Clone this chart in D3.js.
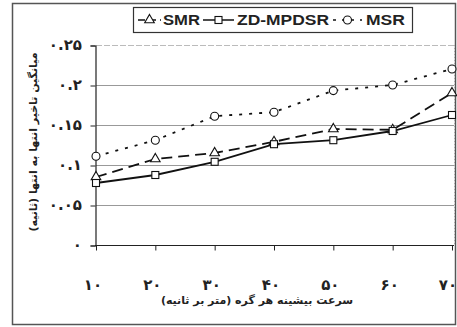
<!DOCTYPE html>
<html><head><meta charset="utf-8">
<script src="https://cdn.jsdelivr.net/npm/d3@7/dist/d3.min.js"></script>
<style>
html,body{margin:0;padding:0;background:#fff;}
svg{display:block;}
</style></head>
<body>
<svg id="c" width="457" height="327"></svg>
<script>
const categories = [10, 20, 30, 40, 50, 60, 70];
const xTickLabels = ["۱۰", "۲۰", "۳۰", "۴۰", "۵۰", "۶۰", "۷۰"];
const yTicks = [0, 0.05, 0.1, 0.15, 0.2, 0.25];
const yTickLabels = ["۰", "۰.۰۵", "۰.۱", "۰.۱۵", "۰.۲", "۰.۲۵"];
const smr = [0.085, 0.1075, 0.115, 0.129, 0.145, 0.144, 0.19];
const zdmpdsr = [0.0775, 0.0875, 0.104, 0.126, 0.131, 0.1425, 0.1625];
const msr = [0.111, 0.131, 0.161, 0.166, 0.193, 0.2, 0.22];
const seriesNames = ["SMR", "ZD-MPDSR", "MSR"];
const xTitle = "سرعت بیشینه هر گره (متر بر ثانیه)";
const yTitle = "میانگین تاخیر انتها به انتها (ثانیه)";

const svg = d3.select("#c");
const fa = "'DejaVu Sans', sans-serif";

// outer frame
svg.append("rect").attr("x", 12.5).attr("y", 3.5).attr("width", 443).attr("height", 321)
  .attr("fill", "none").attr("stroke", "#555").attr("stroke-width", 1.5);

const x = d3.scalePoint().domain(categories).range([96, 452]);
const y = d3.scaleLinear().domain([0, 0.25]).range([245, 45]);

// gridlines
svg.append("g").selectAll("line").data(yTicks.filter(d => d > 0)).join("line")
  .attr("x1", 96).attr("x2", 454)
  .attr("y1", d => y(d) + 0.5).attr("y2", d => y(d) + 0.5)
  .attr("stroke", d => d === 0.25 ? "#bbb" : "#999")
  .attr("stroke-dasharray", d => d === 0.25 ? "6,2" : null)
  .attr("stroke-width", 1);
// right border of plot (dotted)
svg.append("line").attr("x1", 454.5).attr("x2", 454.5).attr("y1", y(0.25)).attr("y2", y(0))
  .attr("stroke", "#aaa").attr("stroke-dasharray", "1,2");

// y axis
const yAxis = d3.axisLeft(y).tickValues(yTicks).tickSize(5).tickFormat("");
const gy = svg.append("g").attr("transform", "translate(95.5,0.5)").call(yAxis);
gy.select(".domain").attr("stroke", "#222").attr("stroke-width", 1.2);
gy.selectAll(".tick line").attr("stroke", "#222");
svg.append("g").selectAll("text").data(yTicks).join("text")
  .attr("x", 82).attr("y", d => y(d) + 5)
  .attr("text-anchor", "end").attr("direction", "ltr")
  .attr("font-family", fa).attr("font-weight", "bold").attr("font-size", 15)
  .attr("fill", "#222")
  .text((d, i) => yTickLabels[i]);

// x axis
const xAxis = d3.axisBottom(x).tickSize(5).tickFormat("");
const gx = svg.append("g").attr("transform", "translate(0,245.5)").call(xAxis);
gx.select(".domain").attr("stroke", "#222").attr("stroke-width", 1.2).attr("d", "M95,0H454");
gx.selectAll(".tick line").attr("stroke", "#222");
svg.append("g").selectAll("text").data(categories).join("text")
  .attr("x", (d, i) => Math.min(x(d) - 3, 448)).attr("y", 290)
  .attr("text-anchor", "middle")
  .attr("font-family", fa).attr("font-weight", "bold").attr("font-size", 15)
  .attr("fill", "#222")
  .text((d, i) => xTickLabels[i]);

// axis titles
svg.append("text").attr("x", 257).attr("y", 304).attr("text-anchor", "middle")
  .attr("direction", "rtl")
  .attr("font-family", fa).attr("font-weight", "bold").attr("font-size", 11).attr("fill", "#222")
  .text(xTitle);
svg.append("text").attr("transform", "translate(37,142) rotate(-90)").attr("text-anchor", "middle")
  .attr("direction", "rtl")
  .attr("font-family", fa).attr("font-weight", "bold").attr("font-size", 11).attr("fill", "#222")
  .text(yTitle);

// series
const series = [
  {name: seriesNames[0], values: smr, dash: "11,6", marker: "triangle"},
  {name: seriesNames[1], values: zdmpdsr, dash: null, marker: "square"},
  {name: seriesNames[2], values: msr, dash: "3,7", marker: "circle"}
];
const line = d3.line().x((d, i) => x(categories[i])).y(d => y(d));

function drawMarker(g, type, cx, cy) {
  if (type === "triangle") {
    g.append("path").attr("d", d3.symbol(d3.symbolTriangle, 40)()).attr("transform", `translate(${cx},${cy})`)
      .attr("fill", "#fff").attr("stroke", "#111").attr("stroke-width", 1.1);
  } else if (type === "square") {
    g.append("rect").attr("x", cx - 3.5).attr("y", cy - 3.5).attr("width", 7).attr("height", 7)
      .attr("fill", "#fff").attr("stroke", "#111").attr("stroke-width", 1.1);
  } else {
    g.append("circle").attr("cx", cx).attr("cy", cy).attr("r", 4)
      .attr("fill", "#fff").attr("stroke", "#111").attr("stroke-width", 1.1);
  }
}

series.forEach(s => {
  svg.append("path").datum(s.values).attr("d", line)
    .attr("fill", "none").attr("stroke", "#111").attr("stroke-width", 1.8)
    .attr("stroke-dasharray", s.dash);
});
series.forEach(s => {
  const g = svg.append("g");
  s.values.forEach((v, i) => drawMarker(g, s.marker, x(categories[i]), y(v)));
});

// legend
const lg = svg.append("g");
lg.append("rect").attr("x", 133.5).attr("y", 7.5).attr("width", 279).attr("height", 25)
  .attr("fill", "#fff").attr("stroke", "#333").attr("stroke-width", 1.2);
const legendItems = [
  {s: series[0], x1: 138, x2: 161, tx: 163, tw: 37},
  {s: series[1], x1: 203, x2: 234, tx: 237, tw: 92},
  {s: series[2], x1: 333, x2: 362, tx: 366, tw: 39}
];
legendItems.forEach(it => {
  lg.append("line").attr("x1", it.x1).attr("x2", it.x2).attr("y1", 20).attr("y2", 20)
    .attr("stroke", "#111").attr("stroke-width", 1.5)
    .attr("stroke-dasharray", it.s.dash === "11,6" ? "7,4" : (it.s.dash ? "3,6" : null));
  drawMarker(lg, it.s.marker, (it.x1 + it.x2) / 2, 20);
  lg.append("text").attr("x", it.tx).attr("y", 25)
    .attr("font-family", "'Liberation Sans', Arial, sans-serif").attr("font-weight", "bold")
    .attr("font-size", 14).attr("fill", "#222")
    .attr("textLength", it.tw).attr("lengthAdjust", "spacingAndGlyphs")
    .text(it.s.name);
});
</script>
</body></html>
